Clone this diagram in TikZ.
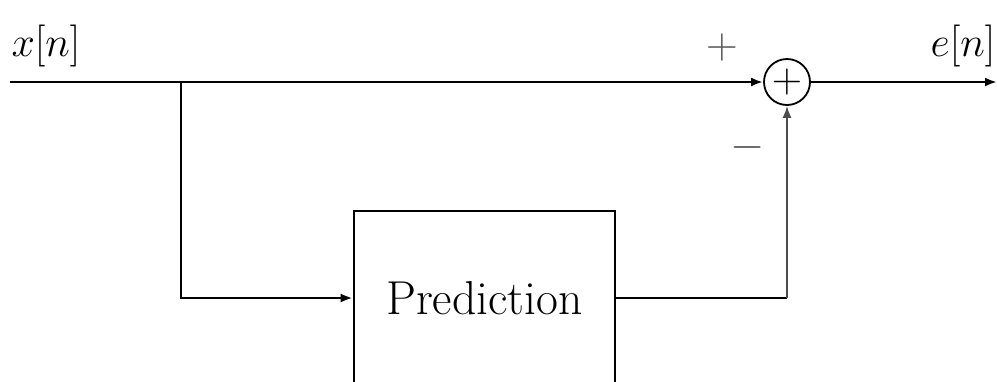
\RequirePackage{fix-cm}
\documentclass[tikz,border=0pt]{standalone}
\usetikzlibrary{arrows.meta}
\begin{document}
\begin{tikzpicture}[x=0.5pt,y=-0.5pt,
  arr/.style={line width=1.4pt,-{Latex[length=6pt,width=4.5pt]}},
  plainline/.style={line width=1.4pt},
  thinarr/.style={line width=0.8pt,draw=black!70,-{Latex[length=6pt,width=4.5pt]}},
  blockbox/.style={draw,line width=1.3pt,minimum width=130.5pt,minimum height=87pt,inner sep=0pt,font=\fontsize{23.8}{28}\selectfont},
  sumnode/.style={draw,circle,line width=0.9pt,minimum size=23pt,inner sep=0pt,font=\fontsize{21}{24}\selectfont},
  lbl/.style={inner sep=0pt,font=\fontsize{21}{25}\selectfont},
  sign/.style={inner sep=0pt,text=black!65,font=\fontsize{22}{26}\selectfont}]
\useasboundingbox (0,0) rectangle (997,381);
\clip (0,0) rectangle (997,381);
\coordinate (in) at (10,82);
\coordinate (out) at (997,82);
\coordinate (br) at (181,82);
\node[sumnode] (sum) at (787,82) {$+$};
\node[blockbox] (pred) at (484.5,298) {Prediction};
\coordinate (corner) at (pred.east -| sum);
\node[lbl] (xn) at (46,46) {$x[n]$};
\node[lbl] (en) at (963,46) {$e[n]$};
\node[sign] (plus) at (722,47) {$+$};
\node[sign] (minus) at (748,147) {$-$};
\draw[arr] (in) -- (sum.west);
\draw[arr] (sum.east) -- (out);
\draw[arr] (br) |- (pred.west);
\draw[plainline] (pred.east) -- (corner);
\draw[thinarr] (corner) -- (sum.south);
\end{tikzpicture}
\end{document}
